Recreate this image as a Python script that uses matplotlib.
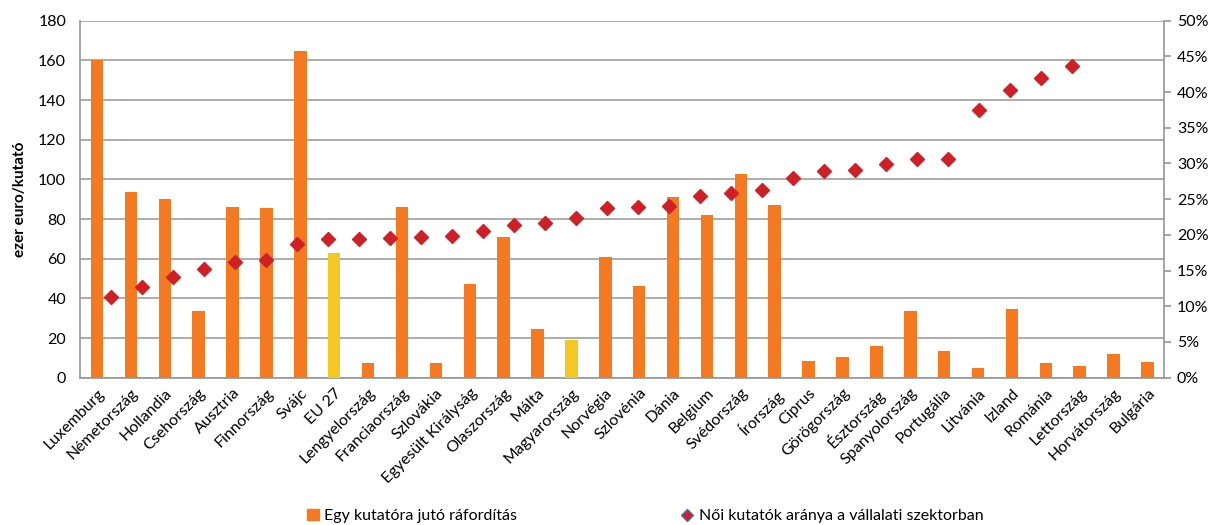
import numpy as np
import matplotlib
matplotlib.use("Agg")
import matplotlib.pyplot as plt
from matplotlib.lines import Line2D
from matplotlib.patches import Patch

plt.rcParams['font.family'] = ['Lato', 'DejaVu Sans']

countries = ["Luxemburg", "Németország", "Hollandia", "Csehország", "Ausztria",
             "Finnország", "Svájc", "EU 27", "Lengyelország", "Franciaország",
             "Szlovákia", "Egyesült Királyság", "Olaszország", "Málta",
             "Magyarország", "Norvégia", "Szlovénia", "Dánia", "Belgium",
             "Svédország", "Írország", "Ciprus", "Görögország", "Észtország",
             "Spanyolország", "Portugália", "Litvánia", "Izland", "Románia",
             "Lettország", "Horvátország", "Bulgária"]

# ezer euro / kutató
spending = [160.0, 93.8, 89.9, 33.6, 86.1, 85.4, 164.7, 62.9, 7.2, 86.1,
            7.2, 47.2, 70.9, 24.4, 19.2, 61.0, 46.1, 91.1, 82.0, 102.5,
            87.2, 8.6, 10.6, 15.8, 33.6, 13.3, 4.7, 34.8, 7.4, 6.0,
            11.9, 8.1]

# női kutatók aránya (%)
women_share = [11.3, 12.7, 14.1, 15.2, 16.2, 16.5, 18.7, 19.4, 19.4, 19.5,
               19.7, 19.9, 20.5, 21.4, 21.6, 22.3, 23.7, 23.9, 24.0, 25.5,
               25.8, 26.3, 28.0, 28.9, 29.1, 29.9, 30.6, 30.6, 37.5, 40.3,
               42.0, 43.7]

highlight = ["EU 27", "Magyarország"]

orange = "#F47920"
yellow = "#F5C723"
red = "#CF2027"
grey = "#969696"

fig = plt.figure(figsize=(12.13, 5.25), dpi=100)
pos = [0.066, 0.2806, 0.894, 0.68]
ax = fig.add_axes(pos)

x = np.arange(len(countries))
colors = [yellow if c in highlight else orange for c in countries]
ax.bar(x, spending, width=0.37, color=colors, zorder=3)

ax.set_xlim(-0.5, len(countries) - 0.5)
ax.set_ylim(0, 180)
ax.set_yticks(np.arange(0, 181, 20))
ax.yaxis.grid(True, color=grey, linewidth=1.1, zorder=0)
ax.set_axisbelow(True)
ax.set_xticks(x)
ax.set_xticklabels(countries, rotation=45, ha='right', rotation_mode='anchor',
                   fontsize=11.5)
ax.tick_params(axis='x', length=0, pad=6)
ax.tick_params(axis='y', length=0, labelsize=11.5, pad=10)
ax.set_ylabel("ezer euro/kutató", fontsize=11, fontweight='bold', labelpad=8)
ax.spines['top'].set_visible(False)
for s in ['left', 'bottom', 'right']:
    ax.spines[s].set_color(grey)
    ax.spines[s].set_linewidth(1.2)

# secondary axes for the share series
ax2 = fig.add_axes(pos, frameon=False)
ax2.set_xlim(0, 35)
ax2.set_ylim(0, 50)
ax2.plot(np.arange(1, len(women_share) + 1), women_share, linestyle='none',
         marker='D', markersize=7, color=red, zorder=4)
ax2.set_xticks([])
ax2.yaxis.tick_right()
ax2.set_yticks(np.arange(0, 51, 5))
ax2.set_yticklabels([f"{v}%" for v in range(0, 51, 5)])
ax2.tick_params(axis='y', direction='out', length=5, color=grey, width=1.2,
                labelsize=11.5, pad=4)

handles = [Patch(color=orange),
           Line2D([], [], linestyle='none', marker='D', markersize=6,
                  color=red, markeredgecolor='#4A6FB5')]
labels = ["Egy kutatóra jutó ráfordítás",
          "Női kutatók aránya a vállalati szektorban"]
fig.legend(handles, labels, loc='center', bbox_to_anchor=(0.532, 0.017),
           ncol=2, frameon=False, fontsize=11.5, columnspacing=10.3,
           handlelength=0.7, handletextpad=0.35)

fig.savefig("out.png", dpi=100)
